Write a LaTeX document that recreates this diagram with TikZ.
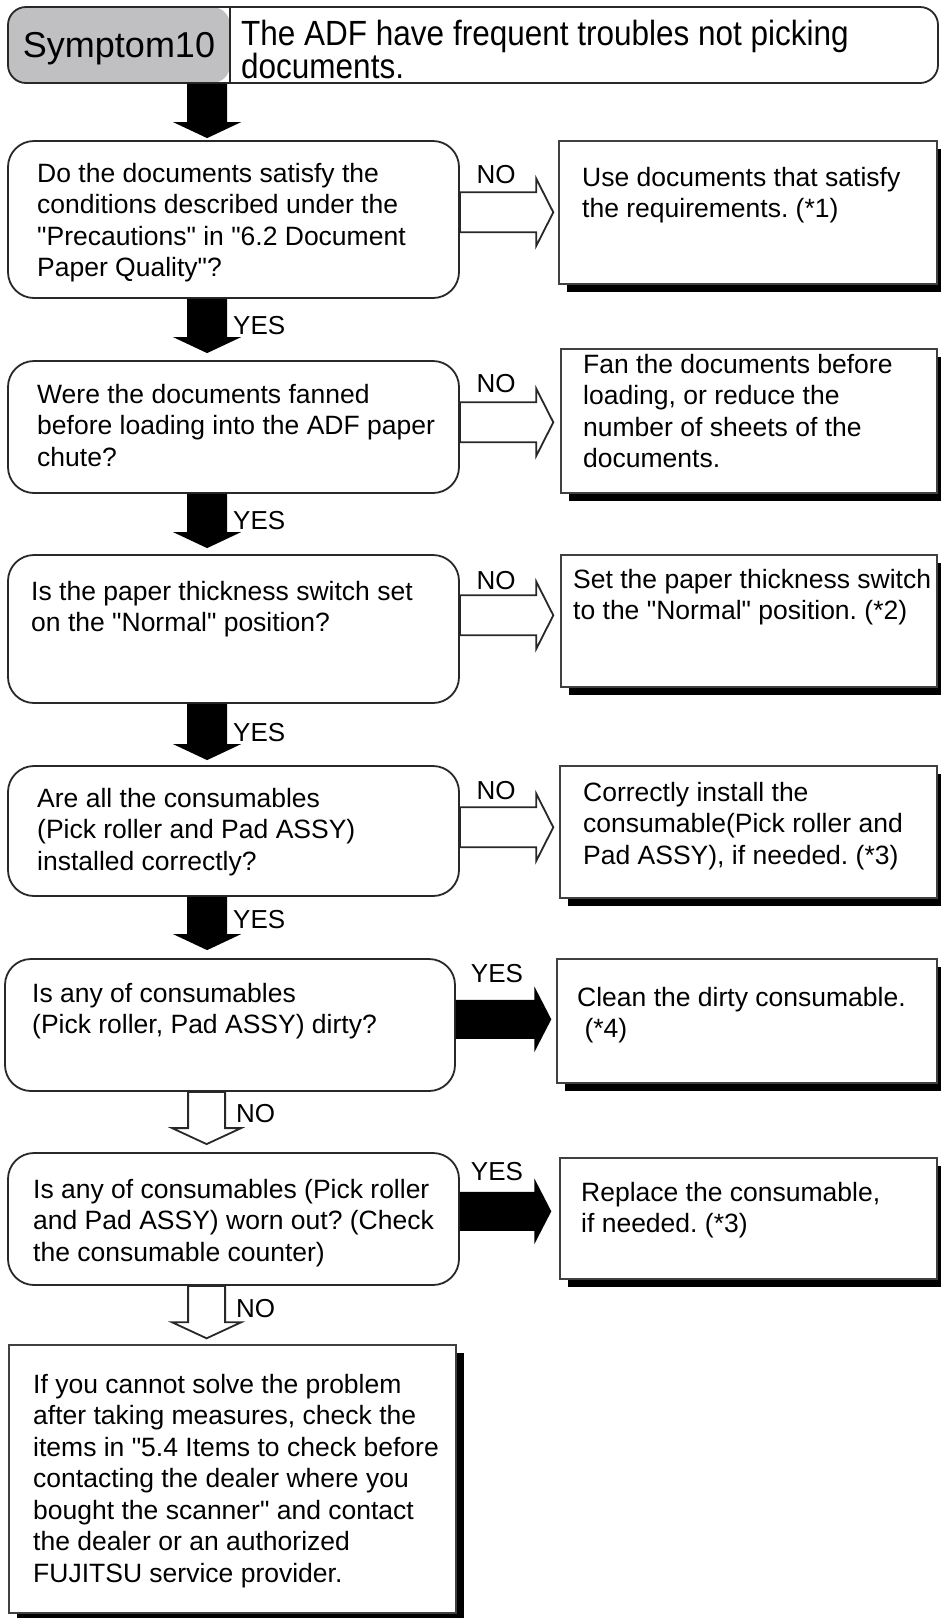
\documentclass[tikz,border=0pt]{standalone}
\usepackage{fontspec}
\setmainfont{Liberation Sans}
\newfontfamily\bodyfont{Liberation Sans}
\newfontfamily\hdrfont[FakeStretch=0.9]{Liberation Sans}
\usetikzlibrary{calc,shadows}
\definecolor{hdrgray}{RGB}{192,192,194}
\definecolor{lineclr}{RGB}{40,40,40}
\tikzset{
  qbox/.style={draw=lineclr, line width=1.8pt, rounded corners=26pt, fill=white, inner sep=0pt},
  abox/.style={draw=black!75, line width=1.4pt, fill=white, inner sep=0pt,
    drop shadow={shadow xshift=8pt, shadow yshift=-8pt, fill=black, opacity=1}},
  txt/.style={anchor=base west, inner sep=0pt},
  lbl/.style={inner sep=0pt, font=\bodyfont\fontsize{26}{30}\selectfont},
  blackarrow/.style={fill=black},
  openarrow/.style={draw=lineclr, line width=1.8pt, fill=white, line join=miter},
}
\newcommand\ptext[1]{\parbox[t]{700pt}{\raggedright\frenchspacing\bodyfont\fontsize{26.5}{31.5}\selectfont #1}}
% vertical fat arrow: #1 style, #2 start, #3 tip, #4 shaft half width, #5 head half width
\newcommand\fatdown[5]{\path[#1] let \p1=(#2), \p2=(#3) in
  (\x1-#4,\y1) -- (\x1-#4,\y2+16pt) -- (\x1-#5,\y2+16pt) -- (\x1,\y2)
  -- (\x1+#5,\y2+16pt) -- (\x1+#4,\y2+16pt) -- (\x1+#4,\y1) -- cycle;}
% horizontal fat arrow: #1 style, #2 start (x), #3 tip (x,y), #4 shaft half height, #5 head half height
\newcommand\fatright[5]{\path[#1] let \p1=(#2), \p2=(#3) in
  (\x1,\y2+#4) -- (\x2-17pt,\y2+#4) -- (\x2-17pt,\y2+#5) -- (\x2,\y2)
  -- (\x2-17pt,\y2-#5) -- (\x2-17pt,\y2-#4) -- (\x1,\y2-#4) -- cycle;}

\begin{document}
\begin{tikzpicture}[x=1pt,y=-1pt]
\useasboundingbox (0,0) rectangle (941,1618);
\fill[white] (0,0) rectangle (941,1618);

% header
\node[draw=lineclr, line width=1.8pt, rounded corners=18pt, minimum width=930pt, minimum height=76pt, inner sep=0pt,
  path picture={
    \fill[hdrgray] (path picture bounding box.north west) rectangle ($(path picture bounding box.south west)+(222pt,0pt)$);
    \draw[lineclr, line width=1.8pt] ($(path picture bounding box.north west)+(222pt,0pt)$) -- ($(path picture bounding box.south west)+(222pt,0pt)$);
  }] (hdr) at (473,45) {};
\node[inner sep=0pt, anchor=base, font=\bodyfont\fontsize{36}{40}\selectfont] (sym) at (119,57) {Symptom10};
\node[txt] (ttl) at (241,45) {\parbox[t]{700pt}{\hdrfont\fontsize{35}{30}\selectfont The ADF have frequent troubles not picking\\documents.}};

% question boxes
\node[qbox, minimum width=451pt, minimum height=157pt] (q1) at (233.5,219.5) {};
\node[qbox, minimum width=451pt, minimum height=132pt] (q2) at (233.5,427) {};
\node[qbox, minimum width=451pt, minimum height=148pt] (q3) at (233.5,629) {};
\node[qbox, minimum width=451pt, minimum height=130pt] (q4) at (233.5,831) {};
\node[qbox, minimum width=450pt, minimum height=132pt] (q5) at (230,1025) {};
\node[qbox, minimum width=451pt, minimum height=132pt] (q6) at (233.5,1219) {};

% answer boxes
\node[abox, minimum width=378pt, minimum height=143pt] (a1) at (748,212.5) {};
\node[abox, minimum width=376pt, minimum height=144pt] (a2) at (749,421) {};
\node[abox, minimum width=376pt, minimum height=132pt] (a3) at (749,621) {};
\node[abox, minimum width=377pt, minimum height=132pt] (a4) at (748.5,832) {};
\node[abox, minimum width=380pt, minimum height=124pt] (a5) at (747,1021) {};
\node[abox, minimum width=377pt, minimum height=121pt] (a6) at (748.5,1218.5) {};
\node[abox, minimum width=447pt, minimum height=268pt] (fin) at (232.5,1479) {};

% texts
\node[txt] (q1t) at (37,182) {\ptext{Do the documents satisfy the\\conditions described under the\\"Precautions" in "6.2 Document\\Paper Quality"?}};
\node[txt] (a1t) at (582,186) {\ptext{Use documents that satisfy\\the requirements. (*1)}};
\node[txt] (q2t) at (37,403) {\ptext{Were the documents fanned\\before loading into the ADF paper\\chute?}};
\node[txt] (a2t) at (583,373) {\ptext{Fan the documents before\\loading, or reduce the\\number of sheets of the\\documents.}};
\node[txt] (q3t) at (31,600) {\ptext{Is the paper thickness switch set\\on the "Normal" position?}};
\node[txt] (a3t) at (573,588) {\ptext{Set the paper thickness switch\\to the "Normal" position. (*2)}};
\node[txt] (q4t) at (37,807) {\ptext{Are all the consumables\\(Pick roller and Pad ASSY)\\installed correctly?}};
\node[txt] (a4t) at (583,801) {\ptext{Correctly install the\\consumable(Pick roller and\\Pad ASSY), if needed. (*3)}};
\node[txt] (q5t) at (32,1002) {\ptext{Is any of consumables\\(Pick roller, Pad ASSY) dirty?}};
\node[txt] (a5t) at (577,1006) {\ptext{Clean the dirty consumable.\\~(*4)}};
\node[txt] (q6t) at (33,1198) {\ptext{Is any of consumables (Pick roller\\and Pad ASSY) worn out? (Check\\the consumable counter)}};
\node[txt] (a6t) at (581,1201) {\ptext{Replace the consumable,\\if needed. (*3)}};
\node[txt] (fint) at (33,1393) {\ptext{If you cannot solve the problem\\after taking measures, check the\\items in "5.4 Items to check before\\contacting the dealer where you\\bought the scanner" and contact\\the dealer or an authorized\\FUJITSU service provider.}};

% vertical arrows
\fatdown{blackarrow}{$(hdr.south west)+(200,0)$}{$(q1.north west)+(200,-2)$}{20pt}{34pt}
\fatdown{blackarrow}{$(q1.south west)+(200,0)$}{$(q2.north west)+(200,-7)$}{20pt}{34pt}
\fatdown{blackarrow}{$(q2.south west)+(200,0)$}{$(q3.north west)+(200,-6)$}{20pt}{34pt}
\fatdown{blackarrow}{$(q3.south west)+(200,0)$}{$(q4.north west)+(200,-5)$}{20pt}{34pt}
\fatdown{blackarrow}{$(q4.south west)+(200,0)$}{$(q5.north west)+(203,-8)$}{20pt}{34pt}
\fatdown{openarrow}{$(q5.south west)+(202.5,0)$}{$(q6.north west)+(199.5,-8)$}{18.5pt}{34.5pt}
\fatdown{openarrow}{$(q6.south west)+(199.5,0)$}{$(fin.north west)+(198.5,-6)$}{18.5pt}{34.5pt}

% horizontal arrows
\fatright{openarrow}{$(q1.north east)+(0,72)$}{$(a1.north west)+(-5,72)$}{20pt}{33.5pt}
\fatright{openarrow}{$(q2.north east)+(0,62)$}{$(a2.north west)+(-7,74)$}{20pt}{33.5pt}
\fatright{openarrow}{$(q3.north east)+(0,61)$}{$(a3.north west)+(-7,61)$}{20pt}{33.5pt}
\fatright{openarrow}{$(q4.north east)+(0,62)$}{$(a4.north west)+(-6,62)$}{20pt}{33.5pt}
\fatright{blackarrow}{$(q5.north east)+(0,61)$}{$(a5.north west)+(-5,61)$}{19.5pt}{33pt}
\fatright{blackarrow}{$(q6.north east)+(0,59)$}{$(a6.north west)+(-8,54)$}{19.5pt}{33pt}

% labels
\node[lbl, anchor=base] (no1) at (496,183) {NO};
\node[lbl, anchor=base] (no2) at (496,392) {NO};
\node[lbl, anchor=base] (no3) at (496,589) {NO};
\node[lbl, anchor=base] (no4) at (496,799) {NO};
\node[lbl, anchor=base] (yes5) at (497,982) {YES};
\node[lbl, anchor=base] (yes6) at (497,1180) {YES};
\node[lbl, anchor=base west] (yes1) at (233,334) {YES};
\node[lbl, anchor=base west] (yes2) at (233,529) {YES};
\node[lbl, anchor=base west] (yes3) at (233,741) {YES};
\node[lbl, anchor=base west] (yes4) at (233,928) {YES};
\node[lbl, anchor=base west] (no5) at (236,1122) {NO};
\node[lbl, anchor=base west] (no6) at (236,1317) {NO};
\end{tikzpicture}
\end{document}
